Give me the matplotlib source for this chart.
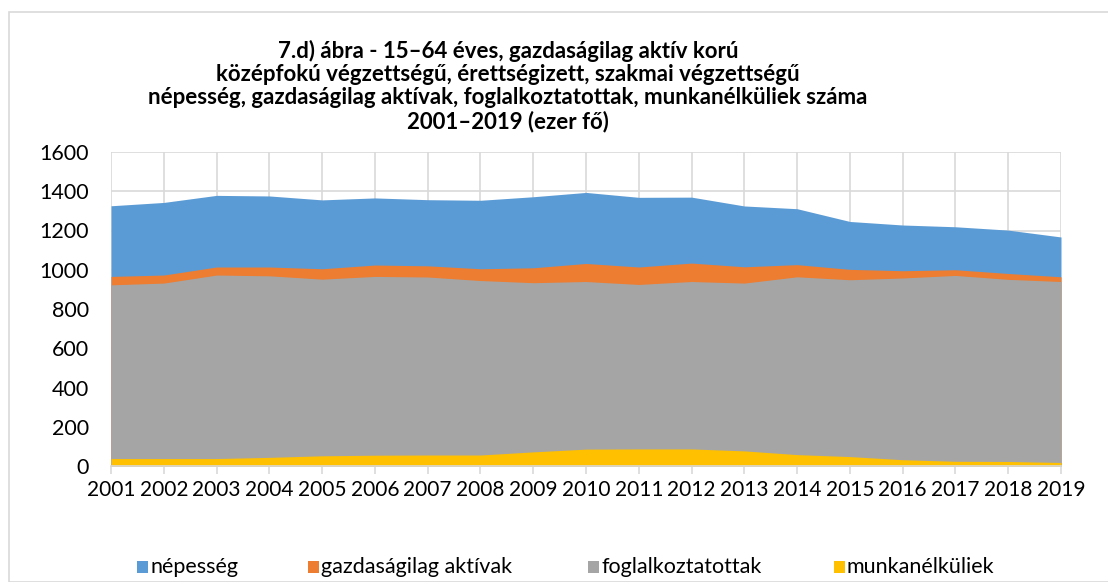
import matplotlib
matplotlib.use("Agg")
import matplotlib.pyplot as plt
from matplotlib.patches import Rectangle

years = list(range(2001, 2020))
nepesseg = [1326, 1343, 1379, 1376, 1356, 1366, 1357, 1354, 1372, 1394,
            1369, 1370, 1325, 1311, 1246, 1228, 1219, 1202, 1167]
aktivak = [966, 973, 1014, 1014, 1005, 1024, 1020, 1005, 1010, 1032,
           1014, 1034, 1015, 1026, 1002, 995, 1000, 981, 964]
foglalkoztatottak = [923, 932, 973, 969, 952, 966, 963, 945, 934, 940,
                     925, 940, 932, 964, 949, 958, 971, 951, 940]
munkanelkuliek = [38, 38, 38, 44, 52, 55, 56, 56, 72, 86,
                  87, 87, 77, 58, 48, 32, 24, 23, 18]

series_names = ["népesség", "gazdaságilag aktívak", "foglalkoztatottak", "munkanélküliek"]
colors = ["#5B9BD5", "#ED7D31", "#A5A5A5", "#FFC000"]
y_ticks = list(range(0, 1601, 200))

plt.rcParams['font.family'] = ['Lato', 'DejaVu Sans']

W, H = 1108, 582
fig = plt.figure(figsize=(W / 100, H / 100), dpi=100)

# outer chart border
fig.patches.append(Rectangle((9 / W, 0), 1.2, 1 - 12 / H, transform=fig.transFigure,
                             fill=False, edgecolor="#D9D9D9", linewidth=1.2))

left, right, top, bottom = 111, 1061, 152, 466
ax = fig.add_axes([left / W, 1 - bottom / H, (right - left) / W, (bottom - top) / H])

data = [nepesseg, aktivak, foglalkoztatottak, munkanelkuliek]
for vals, c in zip(data, colors):
    ax.fill_between(years, 0, vals, color=c, linewidth=0, zorder=2)

ax.set_xlim(years[0], years[-1])
ax.set_ylim(0, 1600)
ax.set_xticks(years)
ax.set_xticklabels([str(y) for y in years], fontsize=15)
ax.set_yticks(y_ticks)
ax.set_yticklabels([str(v) for v in y_ticks], fontsize=15.5)
ax.grid(True, color="#D9D9D9", linewidth=1.2, zorder=0)
ax.set_axisbelow(True)
for s in ["top", "right", "left"]:
    ax.spines[s].set_visible(False)
ax.spines["bottom"].set_color("#D9D9D9")
ax.spines["bottom"].set_linewidth(1.2)
ax.tick_params(axis="x", length=6, color="#D9D9D9", width=1.2, pad=4)
ax.tick_params(axis="y", length=0, pad=16)

title = ("7.d) ábra - 15\u201364 éves, gazdaságilag aktív korú\n"
         "középfokú végzettségű, érettségizett, szakmai végzettségű\n"
         "népesség, gazdaságilag aktívak, foglalkoztatottak, munkanélküliek száma\n"
         "2001\u20132019 (ezer fő)")
fig.text(508 / W, 1 - 40 / H, title, ha="center", va="top", fontsize=16, fontweight="bold",
         linespacing=1.12)

# legend entries
leg_x = [137, 308, 588, 834]
leg_y = 567
for name, c, x in zip(series_names, colors, leg_x):
    fig.patches.append(Rectangle((x / W, 1 - (leg_y + 6) / H), 11 / W, 12 / H,
                                 transform=fig.transFigure, facecolor=c, edgecolor="none"))
    fig.text((x + 13) / W, 1 - leg_y / H, name, ha="left", va="center", fontsize=15.5)

fig.savefig("out.png", dpi=100)
